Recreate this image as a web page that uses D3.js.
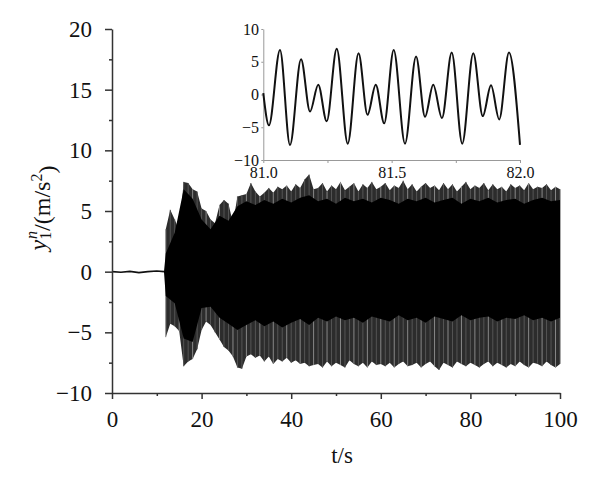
<!DOCTYPE html>
<html>
<head>
<meta charset="utf-8">
<script src="https://cdn.jsdelivr.net/npm/d3@7"></script>
<style>
  body { margin: 0; background: #fff; }
  text { font-family: "Liberation Serif", "DejaVu Serif", serif; }
</style>
</head>
<body>
<svg width="600" height="485"></svg>
<script>
// main signal: quiet part before the onset (t/s, value)
var quietT = [0, 2, 4, 6, 8, 10, 11.6];
var quietY = [0, -0.05, 0.02, -0.08, 0, 0.05, 0];

// main signal: spike tips once per second, t = 12 .. 100
var spikeStart = 12;
var spikeHi = [3.5, 5.1, 4.3, 3.4, 7.4, 7.3, 6.8, 6.6, 5.2, 5.0, 4.3, 4.0, 5.5, 5.9, 5.6, 4.0, 6.2, 6.3, 6.4, 7.3,
  6.6, 6.2, 6.5, 6.9, 6.5, 7.0, 6.8, 7.1, 6.6, 7.2, 6.9, 7.6, 8.0, 6.8,
  6.9, 7.3, 6.6, 7.1, 6.8, 7.4, 6.7, 7.0, 7.3, 6.6,
  7.2, 6.9, 7.4, 6.8, 7.0, 7.3, 6.7, 7.1, 6.9, 7.5,
  6.8, 7.2, 6.6, 7.0, 7.3, 6.9, 7.1, 6.7, 7.3, 6.8,
  7.2, 6.6, 7.0, 7.4, 6.8, 7.1, 6.9, 7.3, 6.7, 7.2,
  6.8, 7.0, 6.6, 7.2, 6.9, 7.1, 6.7, 7.3, 6.8, 7.0,
  6.9, 7.2, 6.7, 7.0, 6.8];
var spikeLo = [-5.4, -4.3, -4.5, -4.9, -7.8, -7.4, -7.2, -6.4, -4.8, -4.1, -4.4, -5.0, -5.6, -6.2, -6.5, -7.0, -7.9, -8.0, -7.0, -6.8,
  -7.1, -6.9, -7.4, -7.0, -7.6, -7.2, -7.4, -7.1, -7.5, -7.3, -7.6, -7.5, -7.8, -7.7,
  -7.6, -7.9, -7.4, -7.8, -7.5, -7.7, -7.9, -7.3, -7.6, -7.8,
  -7.5, -7.9, -7.4, -7.7, -7.6, -7.8, -7.5, -7.9, -7.6, -7.4,
  -7.8, -7.7, -7.5, -7.9, -7.6, -7.4, -7.8, -8.1, -7.5, -7.7,
  -7.9, -7.4, -7.6, -7.8, -7.5, -7.7, -7.9, -7.6, -7.4, -7.8,
  -7.5, -7.7, -7.9, -7.6, -7.8, -7.4, -7.7, -7.9, -7.5, -7.6,
  -7.8, -7.4, -7.7, -7.9, -7.6];

// main signal: solid dark core, onset at 11.6 s then every 2 s from 12 to 100
var coreT = [11.6].concat(d3.range(12, 101, 2));
var coreHi = [0, 1.5, 3.2, 6.8, 6.0, 4.3, 3.5, 4.6, 4.2, 5.4, 5.8, 5.5, 5.9, 5.6, 6.0, 5.7, 6.1, 6.3, 5.8, 6.0, 5.6,
  6.1, 5.8, 6.0, 5.7, 6.1, 5.9, 5.6, 6.0, 5.8, 6.1, 5.7, 5.9, 6.1, 5.6, 6.0, 5.8, 6.1, 5.7, 5.9, 6.0,
  5.6, 5.9, 6.1, 5.8, 5.9];
var coreLo = [0, -2.0, -2.6, -5.5, -5.8, -3.0, -2.9, -3.8, -4.3, -4.8, -4.4, -4.0, -4.5, -4.1, -4.6, -4.2, -3.9, -4.4, -3.8, -4.1, -3.7,
  -4.0, -3.8, -4.2, -3.7, -3.9, -4.1, -3.6, -4.0, -3.8, -4.2, -3.7, -3.9, -4.1, -3.6, -4.0, -3.8, -3.7, -4.1, -3.8, -3.9,
  -3.6, -4.0, -3.8, -4.1, -3.8];

// inset 81.0 - 82.0 s: turning points of the waveform
var insetT = [81.0, 81.022, 81.065, 81.104, 81.147, 81.182, 81.214, 81.247, 81.286, 81.329, 81.371, 81.406, 81.438, 81.471,
  81.508, 81.552, 81.595, 81.630, 81.662, 81.696, 81.734, 81.775, 81.818, 81.855, 81.887, 81.919, 81.957, 82.0];
var insetY = [0.2, -4.7, 6.8, -7.7, 5.4, -2.6, 1.5, -4.1, 7.0, -7.5, 6.3, -3.1, 1.5, -4.4,
  6.8, -7.5, 5.8, -3.4, 1.5, -3.6, 6.4, -7.5, 6.3, -3.3, 1.4, -3.8, 6.4, -7.7];

var xTicks = [0, 20, 40, 60, 80, 100];
var xMinor = [10, 30, 50, 70, 90];
var yTicks = [-10, -5, 0, 5, 10, 15, 20];
var yMinor = [-7.5, -2.5, 2.5, 7.5, 12.5, 17.5];
var insetXTicks = [81.0, 81.5, 82.0];
var insetXMinor = [81.25, 81.75];
var insetYTicks = [-10, -5, 0, 5, 10];

var svg = d3.select("svg");

var x = d3.scaleLinear().domain([0, 100]).range([112, 560]);
var y = d3.scaleLinear().domain([-10, 20]).range([393, 29]);

// signal
var spikes = spikeHi.map(function (h, i) { return { t: spikeStart + i, hi: h, lo: spikeLo[i] }; });
var core = coreT.map(function (t, i) { return { t: t, hi: coreHi[i], lo: coreLo[i] }; });

svg.append("path")
  .datum(spikes)
  .attr("d", d3.area()
    .x(function (d) { return x(d.t); })
    .y0(function (d) { return y(d.lo); })
    .y1(function (d) { return y(d.hi); }))
  .style("fill", "#2c2c2c");

svg.append("g")
  .selectAll("line")
  .data(spikes)
  .enter()
  .append("line")
  .attr("x1", function (d) { return x(d.t); })
  .attr("x2", function (d) { return x(d.t); })
  .attr("y1", function (d) { return y(d.lo); })
  .attr("y2", function (d) { return y(d.hi); })
  .style("stroke", function (d, i) { return i % 3 === 0 ? "#888" : "#555"; })
  .style("stroke-width", 1);

svg.append("path")
  .datum(core)
  .attr("d", d3.area()
    .x(function (d) { return x(d.t); })
    .y0(function (d) { return y(d.lo); })
    .y1(function (d) { return y(d.hi); }))
  .style("fill", "#000");

svg.append("path")
  .datum(quietT.map(function (t, i) { return [t, quietY[i]]; }))
  .attr("d", d3.line()
    .x(function (d) { return x(d[0]); })
    .y(function (d) { return y(d[1]); }))
  .style("fill", "none")
  .style("stroke", "#111")
  .style("stroke-width", 1.6);

// main axes
function styleAxis(g, color, width, size) {
  g.select(".domain").style("stroke", color).style("stroke-width", width);
  g.selectAll(".tick line").style("stroke", color).style("stroke-width", width);
  g.selectAll("text").style("font-size", size + "px").style("fill", "#111")
    .style("font-family", '"Liberation Serif", serif');
}

var gx = svg.append("g")
  .attr("transform", "translate(0,393)")
  .call(d3.axisBottom(x).tickValues(xTicks).tickSize(6).tickSizeOuter(0).tickPadding(11.7).tickFormat(d3.format("d")));
styleAxis(gx, "#333", 1.5, 23);
var gxm = svg.append("g")
  .attr("transform", "translate(0,393)")
  .call(d3.axisBottom(x).tickValues(xMinor).tickSize(3).tickSizeOuter(0).tickFormat(""));
gxm.select(".domain").remove();
styleAxis(gxm, "#333", 1.5, 23);

var gy = svg.append("g")
  .attr("transform", "translate(112,0)")
  .call(d3.axisLeft(y).tickValues(yTicks).tickSize(7).tickSizeOuter(0).tickPadding(13).tickFormat(d3.format("d")));
styleAxis(gy, "#333", 1.5, 23);
var gym = svg.append("g")
  .attr("transform", "translate(112,0)")
  .call(d3.axisLeft(y).tickValues(yMinor).tickSize(3).tickSizeOuter(0).tickFormat(""));
gym.select(".domain").remove();
styleAxis(gym, "#333", 1.5, 23);

// axis titles
svg.append("text")
  .attr("x", 342)
  .attr("y", 463)
  .attr("text-anchor", "middle")
  .style("font-size", "23px")
  .style("fill", "#111")
  .text("t/s");

var ylab = svg.append("text")
  .attr("transform", "translate(46,208)rotate(-90)")
  .attr("text-anchor", "middle")
  .style("font-size", "24px")
  .style("fill", "#111");
ylab.append("tspan").style("font-style", "italic").text("y");
ylab.append("tspan").attr("dy", "0.3em").style("font-size", "16px").text("1");
ylab.append("tspan").attr("dx", "-0.45em").attr("dy", "-0.85em").style("font-size", "16px").style("font-style", "italic").text("n");
ylab.append("tspan").attr("dy", "0.55em").text("/(m/s");
ylab.append("tspan").attr("dy", "-0.55em").style("font-size", "16px").text("2");
ylab.append("tspan").attr("dy", "0.55em").text(")");

// inset
var ix = d3.scaleLinear().domain([81, 82]).range([263.3, 520]);
var iy = d3.scaleLinear().domain([-10, 10]).range([160, 29]);

var gix = svg.append("g")
  .attr("transform", "translate(0,160)")
  .call(d3.axisBottom(ix).tickValues(insetXTicks).tickSize(3).tickSizeOuter(0).tickPadding(3.6).tickFormat(d3.format(".1f")));
styleAxis(gix, "#999", 1, 16);
var gixm = svg.append("g")
  .attr("transform", "translate(0,160)")
  .call(d3.axisBottom(ix).tickValues(insetXMinor).tickSize(3).tickSizeOuter(0).tickFormat(""));
gixm.select(".domain").remove();
styleAxis(gixm, "#999", 1, 16);

var giy = svg.append("g")
  .attr("transform", "translate(263.3,0)")
  .call(d3.axisLeft(iy).tickValues(insetYTicks).tickSize(2).tickSizeOuter(0).tickPadding(2.3).tickFormat(d3.format("d")));
styleAxis(giy, "#999", 1, 16);

svg.append("path")
  .datum(insetT.map(function (t, i) { return [t, insetY[i]]; }))
  .attr("d", d3.line()
    .x(function (d) { return ix(d[0]); })
    .y(function (d) { return iy(d[1]); })
    .curve(d3.curveMonotoneX))
  .style("fill", "none")
  .style("stroke", "#111")
  .style("stroke-width", 2);
</script>
</body>
</html>
